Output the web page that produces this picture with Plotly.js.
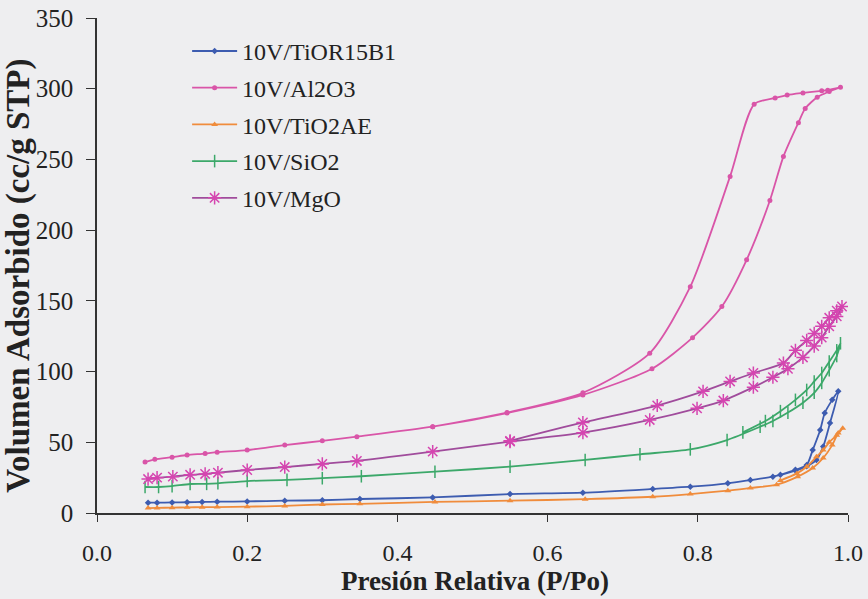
<!DOCTYPE html>
<html><head><meta charset="utf-8">
<script src="https://cdn.plot.ly/plotly-3.0.1.min.js"></script>
<style>html,body{margin:0;padding:0;background:#eeeef0;}</style>
</head><body>
<div id="chart" style="width:868px;height:599px;"></div>
<script>
// Series names
const names = ["10V/TiOR15B1", "10V/Al2O3", "10V/TiO2AE", "10V/SiO2", "10V/MgO"];
const xTitle = "Presión Relativa (P/Po)";
const yTitle = "Volumen Adsorbido (cc/g STP)";

// 10V/TiOR15B1 (adsorption then desorption)
const tiorX = [0.068,0.08,0.1,0.12,0.14,0.16,0.2,0.25,0.3,0.35,0.447,0.55,0.647,0.74,0.79,0.84,0.87,0.9,0.93,0.945,0.958,0.967,0.976,0.987,
               0.979,0.969,0.963,0.953,0.945,0.93,0.91];
const tiorY = [7.3,7.3,7.5,7.6,7.8,8,8.2,8.7,9,9.9,11,13.4,14.4,17,18.6,21,23.3,25.7,30,33,37.5,47,63.6,86,
               80,70.7,58.7,44.5,34,30.5,27];

// 10V/Al2O3
const alX = [0.064,0.077,0.1,0.12,0.144,0.16,0.2,0.25,0.3,0.346,0.447,0.546,0.647,0.739,0.793,0.832,0.865,0.896,0.914,0.934,0.943,0.959,0.975,0.99,
             0.973,0.965,0.94,0.919,0.903,0.875,0.843,0.79,0.736,0.647,0.546,0.447];
const alY = [36,38,39.5,41,42,43,44.5,48,51,54,61,70.7,83.5,102,124,146,179,221,252,276,286,294,298,301,
             299,298.5,297,295.5,293.5,289,238,160,113,85,71,61];

// 10V/TiO2AE
const tiaeX = [0.068,0.08,0.1,0.12,0.14,0.16,0.2,0.25,0.3,0.35,0.45,0.55,0.65,0.74,0.79,0.84,0.87,0.905,0.933,0.953,0.967,0.979,0.987,0.993,
               0.985,0.975,0.967,0.958,0.945,0.932,0.91];
const tiaeY = [3.5,3.6,3.8,4,4.1,4.2,4.5,5,6,6.5,7.8,8.7,9.8,11.5,13.4,15.8,17.7,20,25.7,31.8,38.9,48,56.6,60,
               55,50,44.5,39.8,32.7,28,23];

// 10V/SiO2
const siX = [0.064,0.082,0.1,0.124,0.146,0.161,0.2,0.253,0.3,0.352,0.45,0.55,0.65,0.723,0.79,0.839,0.883,0.9,0.92,0.94,0.955,0.965,0.975,0.985,0.99,
             0.985,0.975,0.965,0.955,0.945,0.93,0.91,0.89,0.86];
const siY = [18.4,18.4,19,20.5,20.6,21,22.6,23.4,24.6,26,29.2,32.8,37.5,41.5,45,51.6,61,65,71,78,85,92,101,111,120,
             115,107,99,93,87,80,72,65,57];

// 10V/MgO
const mgX = [0.068,0.08,0.101,0.124,0.144,0.161,0.2,0.25,0.3,0.346,0.447,0.55,0.647,0.736,0.799,0.834,0.874,0.9,0.92,0.94,0.955,0.965,0.975,0.985,0.992,
             0.985,0.975,0.965,0.955,0.945,0.93,0.914,0.874,0.843,0.807,0.746,0.647,0.55];
const mgY = [24,25,25.7,27,27.6,28.5,30.4,32.5,34.7,36.8,43.4,50.5,56.8,65.8,74,79.5,89,96,102,110,118,124,132,139,146,
             143,138,132,127,122,115,106,99,93,86,76,64,51];

const xTicks = [0, 0.2, 0.4, 0.6, 0.8, 1.0];
const xTickText = ["0.0", "0.2", "0.4", "0.6", "0.8", "1.0"];
const yTicks = [0, 50, 100, 150, 200, 250, 300, 350];

function tr(i, x, y, color, mcolor, symbol, msize, mline) {
  return {
    x: x, y: y, name: names[i], type: "scatter", mode: "lines+markers",
    legendgroup: "g" + i,
    line: {color: color, width: 1.8, shape: "spline", smoothing: 0.7},
    marker: {color: mcolor, symbol: symbol, size: msize, line: {color: mcolor, width: mline}}
  };
}

const data = [
  tr(0, tiorX, tiorY, "#3d5cb0", "#3d5cb0", "diamond", 5, 0),
  tr(1, alX, alY, "#d955a8", "#d955a8", "circle", 5, 0),
  tr(2, tiaeX, tiaeY, "#f08c3c", "#f08c3c", "triangle-up", 6, 0),
  tr(3, siX, siY, "#3ca86a", "#3ca86a", "line-ns-open", 9, 1.5),
  tr(4, mgX, mgY, "#a04c9c", "#d545b0", "asterisk-open", 11, 1.5)
];

const font = "Liberation Serif";
const layout = {
  width: 868, height: 599,
  paper_bgcolor: "#eeeef0", plot_bgcolor: "#eeeef0",
  margin: {l: 97, r: 20, t: 18, b: 86},
  font: {family: font, color: "#222", size: 24},
  showlegend: true,
  legend: {x: 0.12, y: 0.978, xanchor: "left", yanchor: "top", bgcolor: "rgba(0,0,0,0)", itemwidth: 45,
           font: {family: font, size: 24, color: "#222"}, tracegroupgap: 2.5, traceorder: "grouped"},
  xaxis: {
    range: [0, 1.0], tickvals: xTicks, ticktext: xTickText, showgrid: false, zeroline: false,
    showline: true, linecolor: "#333", linewidth: 1.5, ticks: "outside", ticklen: 7, tickcolor: "#333",
    ticklabelstandoff: 10, automargin: false,
    tickfont: {family: font, size: 24, color: "#222"}
  },
  yaxis: {
    range: [0, 350], tickvals: yTicks, showgrid: false, zeroline: false,
    showline: true, linecolor: "#333", linewidth: 1.5, ticks: "outside", ticklen: 9, tickcolor: "#333",
    ticklabelstandoff: 8, automargin: false,
    tickfont: {family: font, size: 25, color: "#222"}
  },
  annotations: [
    {text: "<b>" + xTitle + "</b>", xref: "paper", yref: "paper", x: 0.503, y: -0.138,
     xanchor: "center", yanchor: "middle", showarrow: false,
     font: {family: font, size: 27, color: "#222"}},
    {text: "<b>" + yTitle + "</b>", xref: "paper", yref: "paper", x: -0.104, y: 0.479,
     xanchor: "center", yanchor: "middle", showarrow: false, textangle: -90,
     font: {family: font, size: 33, color: "#222"}}
  ]
};

Plotly.newPlot("chart", data, layout, {displayModeBar: false});
</script>
</body></html>
